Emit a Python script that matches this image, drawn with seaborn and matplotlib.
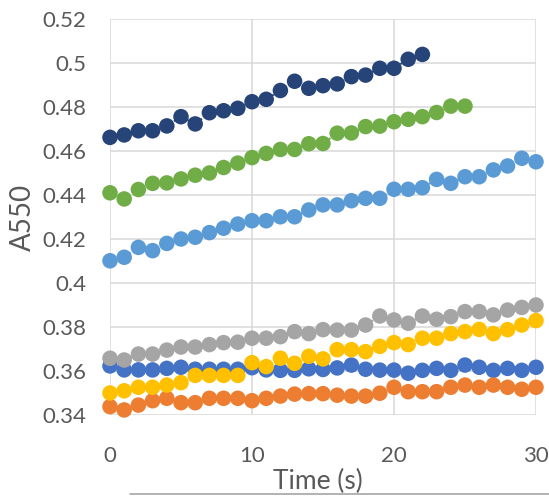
import numpy as np
import pandas as pd
import matplotlib
matplotlib.use("Agg")
import matplotlib.pyplot as plt
from matplotlib.lines import Line2D
import seaborn as sns

# ---- data ----
time_s = list(range(0, 31))

s_blue = [0.3623, 0.3605, 0.3605, 0.3605, 0.3612, 0.3617, 0.3608, 0.3608, 0.3608, 0.3608,
          0.3615, 0.3605, 0.3603, 0.3603, 0.3610, 0.3607, 0.3614, 0.3627, 0.3608, 0.3604,
          0.3604, 0.3590, 0.3603, 0.3612, 0.3603, 0.3627, 0.3617, 0.3603, 0.3612, 0.3603, 0.3617]
s_orange = [0.3438, 0.3423, 0.3445, 0.3465, 0.3476, 0.3456, 0.3456, 0.3476, 0.3476, 0.3476,
            0.3465, 0.3476, 0.3486, 0.3495, 0.3497, 0.3497, 0.3490, 0.3486, 0.3486, 0.3499,
            0.3526, 0.3506, 0.3506, 0.3506, 0.3526, 0.3536, 0.3526, 0.3536, 0.3526, 0.3517, 0.3526]
s_gray = [0.3658, 0.3650, 0.3677, 0.3677, 0.3695, 0.3709, 0.3709, 0.3720, 0.3729, 0.3731,
          0.3749, 0.3749, 0.3756, 0.3779, 0.3770, 0.3788, 0.3786, 0.3786, 0.3809, 0.3850,
          0.3832, 0.3817, 0.3850, 0.3835, 0.3847, 0.3870, 0.3870, 0.3855, 0.3877, 0.3889, 0.3900]
s_yellow = [0.3500, 0.3510, 0.3526, 0.3526, 0.3536, 0.3547, 0.3580, 0.3580, 0.3580, 0.3580,
            0.3638, 0.3620, 0.3658, 0.3635, 0.3667, 0.3655, 0.3697, 0.3697, 0.3688, 0.3712,
            0.3729, 0.3720, 0.3749, 0.3749, 0.3770, 0.3779, 0.3789, 0.3770, 0.3788, 0.3809, 0.3829]
s_lightblue = [0.4101, 0.4117, 0.4162, 0.4147, 0.4180, 0.4200, 0.4208, 0.4229, 0.4249, 0.4268,
               0.4283, 0.4283, 0.4301, 0.4301, 0.4332, 0.4355, 0.4355, 0.4374, 0.4385, 0.4385,
               0.4426, 0.4426, 0.4433, 0.4471, 0.4453, 0.4483, 0.4483, 0.4514, 0.4532, 0.4567, 0.4551]
s_green = [0.4410, 0.4382, 0.4425, 0.4453, 0.4455, 0.4473, 0.4490, 0.4500, 0.4525, 0.4545,
           0.4570, 0.4589, 0.4607, 0.4607, 0.4633, 0.4634, 0.4681, 0.4682, 0.4711, 0.4713,
           0.4733, 0.4744, 0.4756, 0.4775, 0.4804, 0.4804]
s_navy = [0.4662, 0.4673, 0.4692, 0.4692, 0.4714, 0.4756, 0.4723, 0.4774, 0.4783, 0.4794,
          0.4824, 0.4835, 0.4875, 0.4917, 0.4885, 0.4897, 0.4905, 0.4938, 0.4945, 0.4976,
          0.4976, 0.5017, 0.5039]

series_names = ["S1", "S2", "S3", "S4", "S5", "S6", "S7"]
series_values = [s_blue, s_orange, s_gray, s_yellow, s_lightblue, s_green, s_navy]
colors = ["#4472C4", "#ED7D31", "#A5A5A5", "#FFC000", "#5B9BD5", "#70AD47", "#264478"]

x_ticks = [0, 10, 20, 30]
y_ticks = [0.34, 0.36, 0.38, 0.40, 0.42, 0.44, 0.46, 0.48, 0.50, 0.52]
y_tick_labels = ["0.34", "0.36", "0.38", "0.4", "0.42", "0.44", "0.46", "0.48", "0.5", "0.52"]

rows = []
for name, vals in zip(series_names, series_values):
    for t, v in zip(time_s, vals):
        rows.append({"Time (s)": t, "A550": v, "series": name})
df = pd.DataFrame(rows)

# ---- figure ----
sns.set_theme(style="white")
plt.rcParams["font.family"] = ["Lato", "DejaVu Sans"]
txt = "#595959"

fig = plt.figure(figsize=(5.49, 4.96), dpi=100)
ax = fig.add_axes([110 / 549, 81 / 496, 426 / 549, 396 / 496])

palette = dict(zip(series_names, colors))
sns.lineplot(data=df, x="Time (s)", y="A550", hue="series", hue_order=series_names,
             palette=palette, estimator=None, sort=False, linestyle=":", linewidth=1.4,
             legend=False, ax=ax, zorder=2)
sns.scatterplot(data=df, x="Time (s)", y="A550", hue="series", hue_order=series_names,
                palette=palette, s=125, linewidth=0, legend=False, ax=ax, zorder=3,
                clip_on=False)

ax.set_xlim(0, 30)
ax.set_ylim(0.34, 0.52)
ax.set_xticks(x_ticks)
ax.set_xticklabels([str(t) for t in x_ticks])
ax.set_yticks(y_ticks)
ax.set_yticklabels(y_tick_labels)
ax.grid(True, color="#D9D9D9", linewidth=1.1)
ax.set_axisbelow(True)
for sp in ax.spines.values():
    sp.set_visible(False)
ax.tick_params(axis="both", length=0, labelsize=16, colors=txt)
ax.tick_params(axis="x", pad=22)
ax.tick_params(axis="y", pad=17)

ax.set_xlabel("Time (s)", fontsize=19, color=txt, va="center")
ax.set_ylabel("A550", fontsize=20, color=txt, va="center", ha="center")
ax.xaxis.set_label_coords((318 - 110) / 426, (415 - 481) / 396)
ax.yaxis.set_label_coords((23 - 110) / 426, (415 - 217) / 396)

fig.add_artist(Line2D([130 / 549, 1.0], [2 / 496, 2 / 496], color="#A6A6A6",
                      linewidth=1.2, transform=fig.transFigure))

fig.savefig("out.png", dpi=100)
